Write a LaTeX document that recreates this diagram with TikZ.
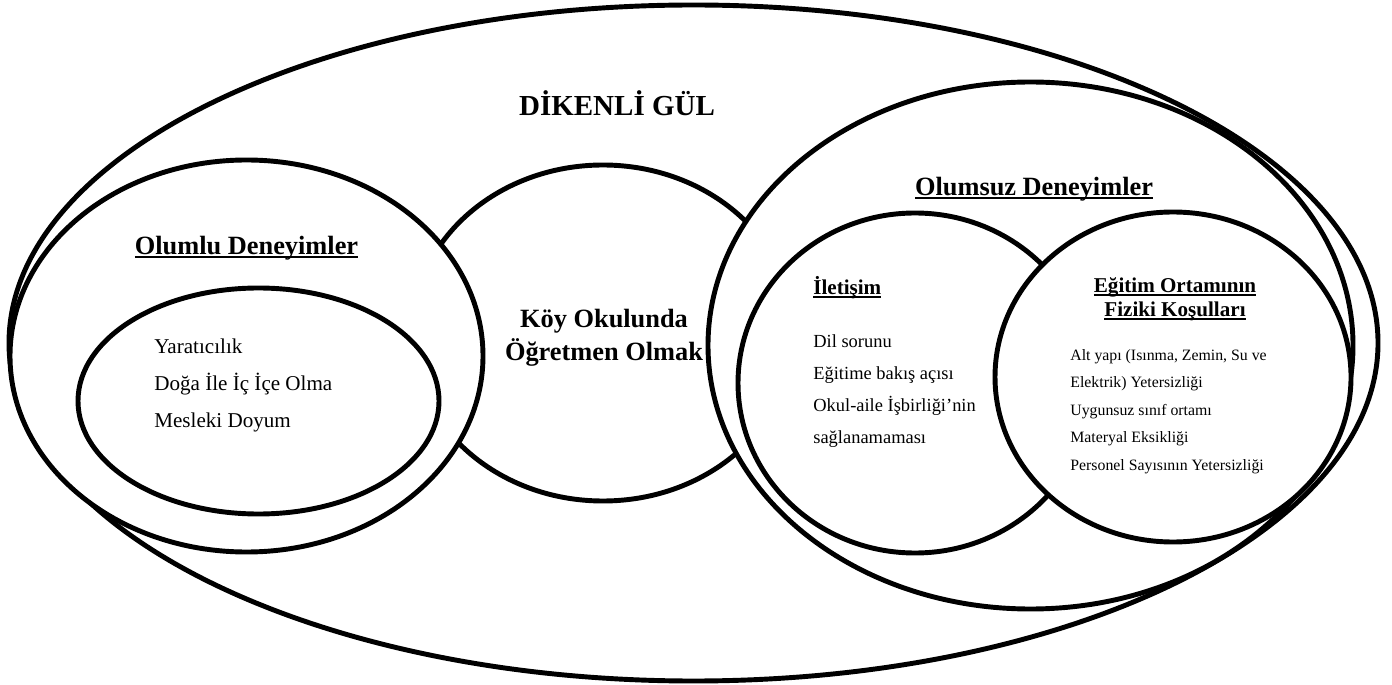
\documentclass[tikz,border=0pt]{standalone}
\usepackage{fontspec}
\setmainfont{Liberation Serif}
\usepackage{tikz}
\usetikzlibrary{positioning,shapes.geometric}

\newsavebox\ulbox
\newcommand{\uln}[1]{\sbox\ulbox{#1}\usebox\ulbox\llap{\rule[-1.9pt]{\wd\ulbox}{1.1pt}}}

\begin{document}
\begin{tikzpicture}[ring/.style={ellipse, draw, line width=2.8pt, fill=white, inner sep=0pt, outer sep=0pt}, every node/.append style={inner sep=0pt}]

    \useasboundingbox (0,0) rectangle (27.84,13.68);

    % Outer set
    \node (DG)[ring, minimum width=27.38cm, minimum height=13.52cm] at (13.87, 6.82) {};

    % Central set
    \node (KO)[ring, minimum width=7.64cm, minimum height=6.72cm] at (12.06, 7.02) {};

    % Positive side
    \node (OL)[ring, minimum width=9.46cm, minimum height=7.84cm] at (4.93, 6.56) {};
    \node (YA)[ring, minimum width=7.22cm, minimum height=4.52cm] at (5.17, 5.66) {};

    % Negative side
    \node (OS)[ring, minimum width=12.9cm, minimum height=10.54cm] at (20.61, 6.77) {};
    \node (IL)[ring, minimum width=7.08cm, minimum height=6.8cm] at (18.3, 6.02) {};
    \node (EO)[ring, minimum width=7.12cm, minimum height=6.6cm] at (23.46, 6.14) {};

    % Texts
    \node (T0)[font=\fontsize{16.5}{20}\selectfont\bfseries] at (12.34, 11.62) {DİKENLİ GÜL};
    \node (T1)[align=center, font=\fontsize{15}{18.7}\selectfont\bfseries] at (12.08, 6.93) {Köy Okulunda\\Öğretmen Olmak};

    \node (T2)[font=\fontsize{15}{18}\selectfont\bfseries] at (4.93, 8.72) {\uln{Olumlu Deneyimler}};
    \node (T3)[anchor=west, align=left, font=\fontsize{12}{21}\selectfont] at (3.08, 5.97) {Yaratıcılık\\Doğa İle İç İçe Olma\\Mesleki Doyum};

    \node (T4)[font=\fontsize{15}{18}\selectfont\bfseries] at (20.68, 9.9) {\uln{Olumsuz Deneyimler}};

    \node (T5)[anchor=west, font=\fontsize{12}{14}\selectfont\bfseries] at (16.26, 7.92) {\uln{İletişim}};
    \node (T6)[anchor=west, align=left, font=\fontsize{10.5}{18.2}\selectfont] at (16.26, 5.85) {Dil sorunu\\Eğitime bakış açısı\\Okul-aile İşbirliği’nin\\sağlanamaması};

    \node (T7)[align=center, font=\fontsize{12}{13.6}\selectfont\bfseries] at (23.5, 7.7) {\uln{Eğitim Ortamının}\\\uln{Fiziki Koşulları}};
    \node (T8)[anchor=west, align=left, font=\fontsize{9}{15.7}\selectfont] at (21.4, 5.45) {Alt yapı (Isınma, Zemin, Su ve\\Elektrik) Yetersizliği\\Uygunsuz sınıf ortamı\\Materyal Eksikliği\\Personel Sayısının Yetersizliği};

\end{tikzpicture}
\end{document}
